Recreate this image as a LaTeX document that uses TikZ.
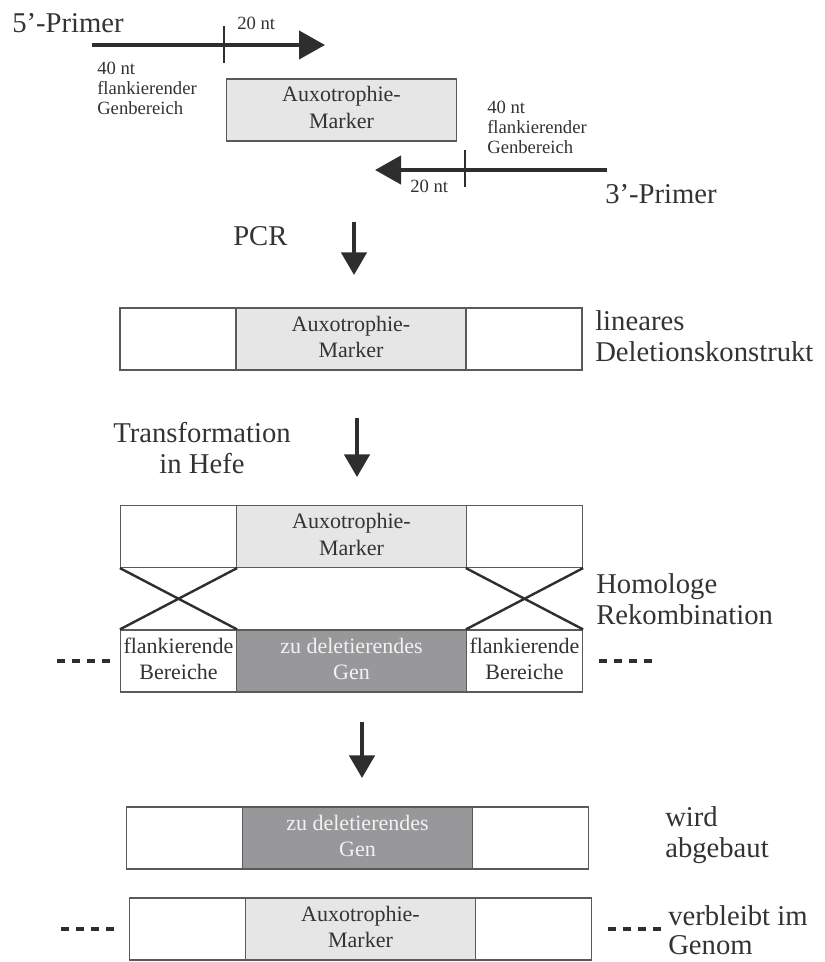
\documentclass[tikz,border=0pt]{standalone}
\usepackage{fontspec}
\setmainfont{Liberation Serif}
\usetikzlibrary{matrix,arrows.meta}
\definecolor{hellgrau}{HTML}{E6E6E6}
\definecolor{dunkelgrau}{HTML}{98989B}
\definecolor{rahmen}{HTML}{5A5A5A}
\definecolor{pfeil}{HTML}{2E2E2E}
\definecolor{schrift}{HTML}{333333}
\newcommand{\zweizeilig}[2]{\begin{tabular}{@{}c@{}}#1\\#2\end{tabular}}

\begin{document}
\begin{tikzpicture}[x=0.75pt, y=-0.75pt,
	every node/.style={inner sep=0pt, text=schrift},
	gross/.style={font=\fontsize{21.5}{23}\selectfont, align=left},
	klein/.style={font=\fontsize{14}{15}\selectfont, align=left},
	boxtext/.style={font=\fontsize{16.5}{20}\selectfont},
	primer/.style={pfeil, line width=3.2pt, -{Triangle[length=19.5pt, width=21pt]}},
	schritt/.style={pfeil, line width=2.8pt, -{Triangle[length=17pt, width=19pt]}},
	strich/.style={pfeil, line width=1.5pt},
	luecke/.style={pfeil, line width=3pt, dash pattern=on 6pt off 5.25pt},
	kreuz/.style={pfeil, line width=1.8pt},
	marker/.style={fill=hellgrau},
	gen/.style={fill=dunkelgrau, text=white!95!black},
	konstrukt/.style={matrix of nodes, nodes in empty cells, column sep=-0.9pt,
		nodes={draw=rahmen, line width=0.9pt, minimum height=46.5pt, anchor=center, boxtext},
		column 1/.style={nodes={minimum width=87pt}},
		column 2/.style={nodes={minimum width=172.5pt}},
		column 3/.style={nodes={minimum width=87pt}}}]
	\useasboundingbox (0,0) rectangle (824,962);

	% Primer oben
	\node[gross, anchor=base west] (t5) at (12,33) {5’-Primer};
	\coordinate (p5a) at (92,45);
	\coordinate (p5b) at (325,45);
	\coordinate (s5a) at (224,26);
	\coordinate (s5b) at (224,63);
	\draw[primer] (p5a) -- (p5b);
	\draw[strich] (s5a) -- (s5b);
	\node[klein, anchor=base west] (n5) at (237,30) {20 nt};
	\node[klein, anchor=west] (f5) at (97,88) {40 nt\\flankierender\\Genbereich};

	\node[draw=rahmen, line width=0.9pt, marker, boxtext, minimum width=173pt, minimum height=46.5pt] (M0) at (341.5,110) {\zweizeilig{Auxotrophie-}{Marker}};

	\coordinate (p3a) at (607,170);
	\coordinate (p3b) at (375,170);
	\coordinate (s3a) at (465,150);
	\coordinate (s3b) at (465,187);
	\draw[primer] (p3a) -- (p3b);
	\draw[strich] (s3a) -- (s3b);
	\node[klein, anchor=base west] (n3) at (410,193) {20 nt};
	\node[klein, anchor=west] (f3) at (487,127) {40 nt\\flankierender\\Genbereich};
	\node[gross, anchor=base west] (t3) at (605,204) {3’-Primer};

	% PCR
	\node[gross, anchor=base west] (pcr) at (233,246) {PCR};
	\coordinate (k1a) at (354,222);
	\coordinate (k1b) at (354,275);
	\draw[schritt] (k1a) -- (k1b);

	\matrix (L) [konstrukt] at (351,339) {
		& |[marker]| \zweizeilig{Auxotrophie-}{Marker} & \\
	};
	\node[gross, anchor=west] (lin) at (595,336) {lineares\\Deletionskonstrukt};

	% Transformation
	\node[gross, align=center] (trafo) at (202,448) {Transformation\\in Hefe};
	\coordinate (k2a) at (357,418);
	\coordinate (k2b) at (357,477);
	\draw[schritt] (k2a) -- (k2b);

	\matrix (O) [konstrukt] at (351.5,536.5) {
		& |[marker]| \zweizeilig{Auxotrophie-}{Marker} & \\
	};
	\matrix (U) [konstrukt] at (351.5,661) {
		\zweizeilig{flankierende}{Bereiche} & |[gen]| \zweizeilig{zu deletierendes}{Gen} & \zweizeilig{flankierende}{Bereiche} \\
	};
	\draw[kreuz] (O-1-1.south west) -- (U-1-1.north east);
	\draw[kreuz] (O-1-1.south east) -- (U-1-1.north west);
	\draw[kreuz] (O-1-3.south west) -- (U-1-3.north east);
	\draw[kreuz] (O-1-3.south east) -- (U-1-3.north west);
	\draw[luecke] ([xshift=-7.5pt]U-1-1.west) -- ++(-40pt,0);
	\draw[luecke] ([xshift=12pt]U-1-3.east) -- ++(40pt,0);
	\node[gross, anchor=west] (homo) at (596,599) {Homologe\\Rekombination};

	\coordinate (k3a) at (362,722);
	\coordinate (k3b) at (362,778);
	\draw[schritt] (k3a) -- (k3b);

	% Ergebnis
	\matrix (A) [konstrukt] at (357.5,838) {
		& |[gen]| \zweizeilig{zu deletierendes}{Gen} & \\
	};
	\node[gross, anchor=west] (weg) at (665,835) {wird\\abgebaut};

	\matrix (R) [konstrukt] at (360.5,929) {
		& |[marker]| \zweizeilig{Auxotrophie-}{Marker} & \\
	};
	\draw[luecke] ([xshift=-11pt]R-1-1.west) -- ++(-40pt,0);
	\draw[luecke] ([xshift=12pt]R-1-3.east) -- ++(40pt,0);
	\node[gross, anchor=west, font=\fontsize{21.5}{21.5}\selectfont] (bleibt) at (668,930) {verbleibt im\\Genom};
\end{tikzpicture}
\end{document}
